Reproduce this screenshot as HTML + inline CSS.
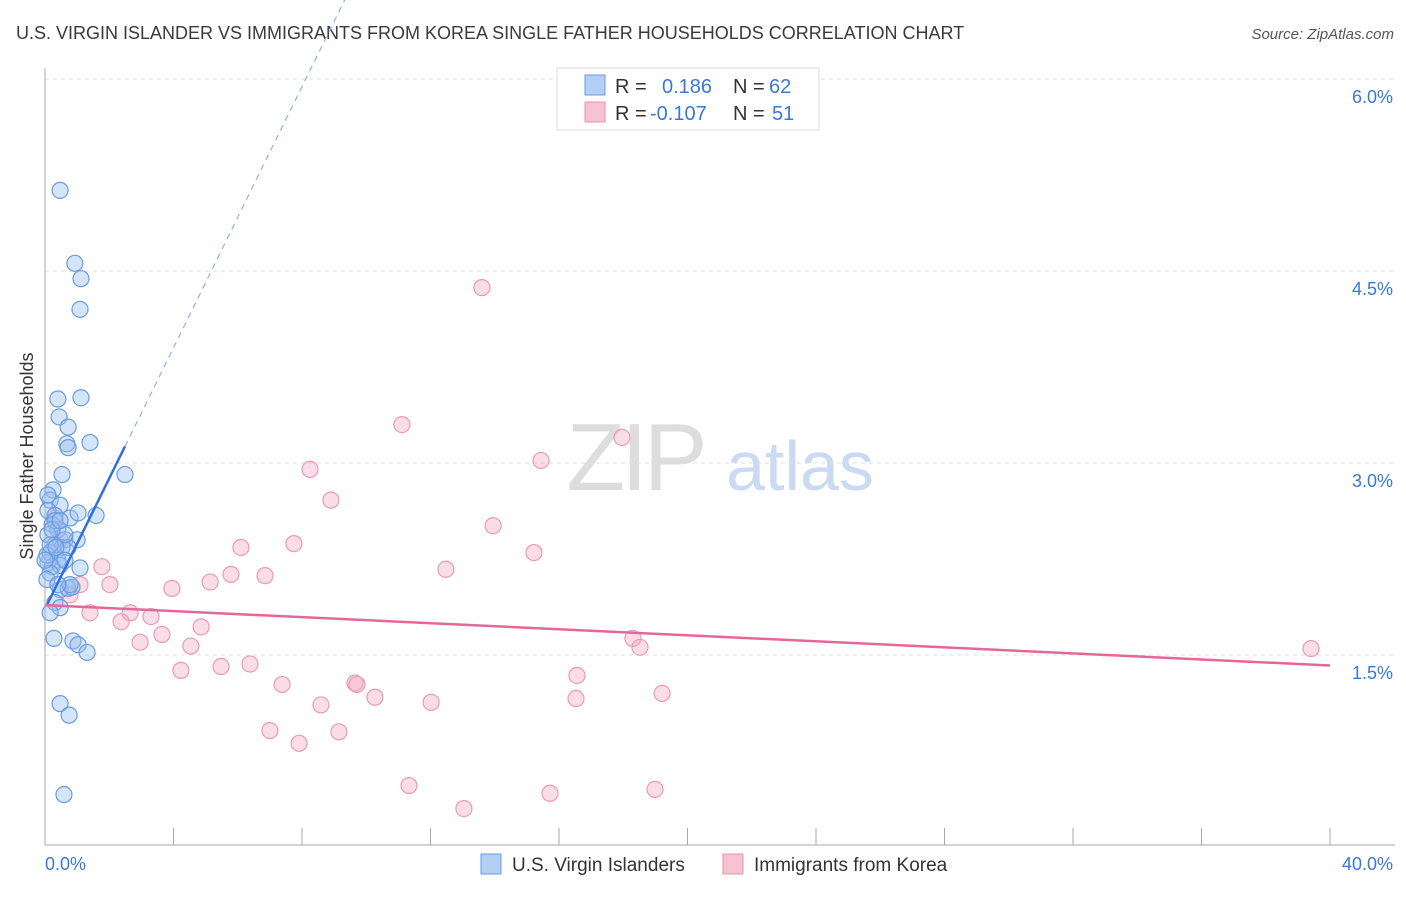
<!DOCTYPE html>
<html><head><meta charset="utf-8"><style>
body{margin:0;background:#fff;font-family:"Liberation Sans",sans-serif}
svg text{font-family:"Liberation Sans",sans-serif}
</style></head><body>
<svg id="chart" width="1406" height="892" xmlns="http://www.w3.org/2000/svg">
<text x="16" y="39" font-size="18" fill="#3a3a3a">U.S. VIRGIN ISLANDER VS IMMIGRANTS FROM KOREA SINGLE FATHER HOUSEHOLDS CORRELATION CHART</text>
<text x="1394" y="39" font-size="15" fill="#555" text-anchor="end" font-style="italic">Source: ZipAtlas.com</text>
<g>
<text x="635" y="490" font-size="96" fill="#ddd" text-anchor="middle" font-family="Liberation Serif" letter-spacing="-4">ZIP</text>
<text x="800" y="490" font-size="70" fill="#c9daf2" text-anchor="middle">atlas</text>
</g>
<g id="grid"></g>
<g id="axes"></g>
<g id="marks"></g>
<text transform="translate(33,456) rotate(-90)" font-size="18" fill="#333" text-anchor="middle">Single Father Households</text>
<g>
<rect x="557" y="68" width="262" height="62" fill="#fff" stroke="#ddd"/>
<rect x="585" y="75" width="20" height="20" fill="#b3cff3" stroke="#6a9be0"/>
<rect x="585" y="102" width="20" height="20" fill="#f7c3d3" stroke="#e890ab"/>
<text x="615" y="93" font-size="20" fill="#333">R =</text>
<text x="662" y="93" font-size="20" fill="#3a78d8">0.186</text>
<text x="733" y="93" font-size="20" fill="#333">N =</text>
<text x="769" y="93" font-size="20" fill="#3a78d8">62</text>
<text x="615" y="120" font-size="20" fill="#333">R =</text>
<text x="650" y="120" font-size="20" fill="#3a78d8">-0.107</text>
<text x="733" y="120" font-size="20" fill="#333">N =</text>
<text x="772" y="120" font-size="20" fill="#3a78d8">51</text>
</g>
<g>
<rect x="481" y="854" width="20" height="20" fill="#b3cff3" stroke="#6a9be0"/>
<text x="512" y="871" font-size="19" fill="#333">U.S. Virgin Islanders</text>
<rect x="723" y="854" width="20" height="20" fill="#f7c3d3" stroke="#e890ab"/>
<text x="754" y="871" font-size="19" fill="#333">Immigrants from Korea</text>
</g>
</svg>
<script>
const blueX=[.47,.93,1.12,1.09,.40,1.12,.44,.72,.68,.72,1.40,.53,2.49,.25,.16,.47,.09,.31,.78,1.03,1.59,.22,.40,.09,.62,1.00,.31,.53,.72,.16,.40,.09,.22,.47,1.09,.16,.47,.72,.84,.31,.47,.16,.28,.87,1.03,1.31,.47,.75,.59,.06,.06,.31,.62,.16,.78,.40,0,.22,.47,.09,.34,.62];
const blueY=[5.13,4.56,4.44,4.20,3.50,3.51,3.36,3.28,3.15,3.12,3.16,2.91,2.91,2.79,2.71,2.67,2.63,2.59,2.57,2.61,2.59,2.52,2.48,2.44,2.40,2.40,2.36,2.34,2.34,2.30,2.24,2.22,2.19,2.20,2.18,2.14,2.01,2.02,2.03,1.91,1.87,1.83,1.63,1.61,1.58,1.52,1.12,1.03,.41,2.28,2.09,2.55,2.44,2.36,2.05,2.05,2.24,2.48,2.55,2.75,2.34,2.24];
const pinkX=[13.60,11.11,17.96,15.44,8.25,8.90,13.95,15.22,6.10,7.75,12.48,6.85,5.79,5.14,3.95,1.77,2.02,1.09,.78,1.40,2.65,3.30,2.37,4.86,3.64,2.96,4.54,18.30,18.52,39.41,6.38,5.48,4.23,16.56,9.65,9.71,7.38,10.27,12.02,16.53,19.21,8.59,7.00,7.91,9.15,11.33,15.72,18.99,13.04,.31,.47];
const pinkY=[4.37,3.30,3.20,3.02,2.95,2.71,2.51,2.30,2.34,2.37,2.17,2.12,2.13,2.07,2.02,2.19,2.05,2.05,1.97,1.83,1.83,1.80,1.76,1.72,1.66,1.60,1.57,1.63,1.56,1.55,1.43,1.41,1.38,1.34,1.28,1.27,1.27,1.17,1.13,1.16,1.20,1.11,.91,.81,.90,.48,.42,.45,.30,2.57,2.40];
const yTicks=[1.5,3.0,4.5,6.0];
const yTickLabels=["1.5%","3.0%","4.5%","6.0%"];
const xTicks=[4,8,12,16,20,24,28,32,36,40];
const xEndLabels=["0.0%","40.0%"];
const blueTrend=[1.86,0.51]; // intercept, slope
const pinkTrend=[1.89,-0.0118];
const sx=v=>45+v*32.125, sy=v=>655-(v-1.5)*128;
const NS="http://www.w3.org/2000/svg";
function mk(p,t,a){const e=document.createElementNS(NS,t);for(const k in a)e.setAttribute(k,a[k]);p.appendChild(e);return e;}
const grid=document.getElementById('grid'),axes=document.getElementById('axes'),marks=document.getElementById('marks');
yTicks.forEach((v,i)=>{
const l=mk(grid,'line',{x1:45,x2:1395,y1:sy(v),y2:sy(v),stroke:'#ddd','stroke-dasharray':'4,4'});


const t=mk(grid,'text',{x:1393,y:sy(v)+24,'font-size':18,fill:'#3a78d8','text-anchor':'end'});t.textContent=yTickLabels[i];


});
let a=mk(axes,'line',{x1:45,x2:45,y1:68,y2:845,stroke:'#aaa'});


a=mk(axes,'line',{x1:45,x2:1395,y1:845,y2:845,stroke:'#aaa'});


xTicks.forEach(v=>{const t=mk(axes,'line',{x1:sx(v),x2:sx(v),y1:828,y2:845,stroke:'#aaa'});

});
let t=mk(axes,'text',{x:45,y:870,'font-size':18,fill:'#3a78d8'});t.textContent=xEndLabels[0];


t=mk(axes,'text',{x:1393,y:870,'font-size':18,fill:'#3a78d8','text-anchor':'end'});t.textContent=xEndLabels[1];


pinkX.forEach((x,i)=>{const c=mk(marks,'circle',{cx:sx(x),cy:sy(pinkY[i]),r:8,fill:'rgba(244,170,195,0.4)',stroke:'#eb9ab5','stroke-width':1.2});

});
blueX.forEach((x,i)=>{const c=mk(marks,'circle',{cx:sx(x),cy:sy(blueY[i]),r:8,fill:'rgba(150,190,240,0.4)',stroke:'#6a9be0','stroke-width':1.2});

});
const bx0=0.06,bx1=2.49,bx2=11.0;
let l=mk(marks,'line',{x1:sx(bx0),y1:sy(blueTrend[0]+blueTrend[1]*bx0),x2:sx(bx1),y2:sy(blueTrend[0]+blueTrend[1]*bx1),stroke:'#2f6fd6','stroke-width':2.5});


l=mk(marks,'line',{x1:sx(bx1),y1:sy(blueTrend[0]+blueTrend[1]*bx1),x2:sx(bx2),y2:sy(blueTrend[0]+blueTrend[1]*bx2),stroke:'#8fb2e8','stroke-width':1.2,'stroke-dasharray':'6,5'});


l=mk(marks,'line',{x1:sx(0),y1:sy(pinkTrend[0]),x2:sx(40),y2:sy(pinkTrend[0]+pinkTrend[1]*40),stroke:'#e5679a','stroke-width':2.5});


</script>
</body></html>
